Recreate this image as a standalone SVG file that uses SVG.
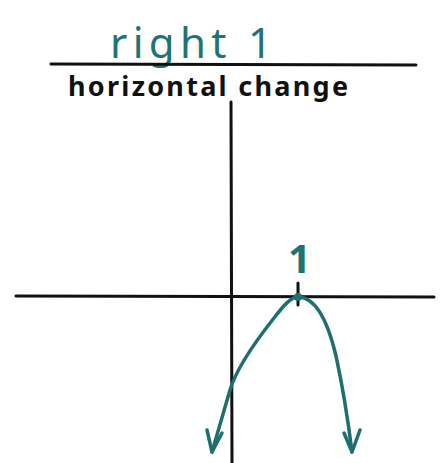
<svg xmlns="http://www.w3.org/2000/svg" width="442" height="463" viewBox="0 0 442 463">
<style>
.ax{stroke:#111;stroke-width:3;fill:none;stroke-linecap:round}
.cv{stroke:#1f6f6f;stroke-width:3.5;fill:none;stroke-linecap:round;stroke-linejoin:round}
.tl{fill:#1f7373;font-family:"Noto Sans",sans-serif}
.bl{fill:#111;font-family:"Noto Sans",sans-serif;font-weight:bold}
</style>
<rect width="442" height="463" fill="#fff"/>
<g id="title">
<text class="tl" x="110" y="58" font-size="42" textLength="162" lengthAdjust="spacing">right 1</text>
<line class="ax" x1="51" y1="64" x2="416" y2="65"/>
<text class="bl" x="68" y="96" font-size="27" textLength="280" lengthAdjust="spacing">horizontal change</text>
</g>
<g id="axes">
<line class="ax" x1="231" y1="102" x2="232" y2="463"/>
<line class="ax" x1="16" y1="296" x2="434" y2="297"/>
<line class="ax" x1="298" y1="283" x2="298" y2="305" stroke="#1f6f6f"/>
<text class="tl" x="288" y="273" font-size="40" font-weight="bold">1</text>
</g>
<g id="connectors">
<path class="cv" d="M212,452 L230,390 C236,370 255,342 274,318 C284,305 291,297 298,297 C316,297 328,322 336,356 C343,388 348,420 352,452"/>
<path class="cv" d="M207,430 L212,452 L222,433"/>
<path class="cv" d="M344,433 L352,452 L360,430"/>
<circle cx="298" cy="297" r="4" fill="#1f6f6f"/>
</g>
</svg>
